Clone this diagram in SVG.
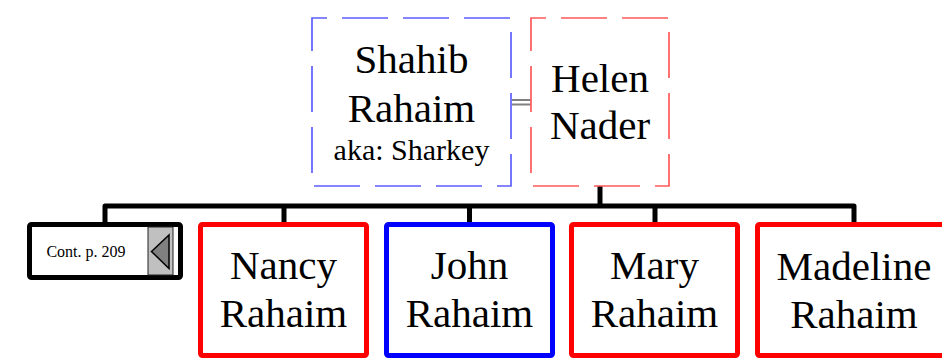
<svg xmlns="http://www.w3.org/2000/svg" width="942" height="361" viewBox="0 0 942 361">
<style>
.t{font-family:'Liberation Serif','Times New Roman',serif;fill:#000;text-anchor:middle}
.big{font-size:41px}
.aka{font-size:30px}
.small{font-size:16px}
.dash{fill:#fff;stroke-width:1.7;stroke-dasharray:46 15;stroke-dashoffset:31}
.child{fill:#fff;stroke-width:5;stroke-linejoin:round}
.conn{fill:none;stroke:#000;stroke-width:5;stroke-linejoin:round;stroke-linecap:butt}
</style>
<rect width="942" height="361" fill="#fff"/>
<g id="connectors">
<path class="conn" d="M105,222 V206 H854 V222"/>
<path class="conn" d="M284,206 V222 M469.5,206 V222 M655,206 V222"/>
<path class="conn" d="M600,184 V206"/>
<path d="M512,100 H531 M512,104.5 H531" stroke="#808080" stroke-width="2" fill="none"/>
</g>
<g id="shahib">
<rect class="dash" x="312" y="18" width="199" height="168" stroke="#5e5eff"/>
<text class="t big" x="411.5" y="73">Shahib</text>
<text class="t big" x="411.5" y="122">Rahaim</text>
<text class="t aka" x="411.5" y="160">aka: Sharkey</text>
</g>
<g id="helen">
<rect class="dash" x="531" y="18" width="138" height="168" stroke="#ff5a5a"/>
<text class="t big" x="600" y="92">Helen</text>
<text class="t big" x="600" y="139">Nader</text>
</g>
<g id="cont">
<rect x="29.5" y="224.5" width="151" height="53" rx="2" fill="#fff" stroke="#000" stroke-width="5"/>
<rect x="148" y="227" width="25" height="48" fill="#c0c0c0" stroke="#222" stroke-width="1"/>
<polygon points="151.5,251.5 169,235 169,268.5" fill="#808080" stroke="#000" stroke-width="1.5"/>
<text class="t small" x="86" y="256.5">Cont. p. 209</text>
</g>
<g id="nancy">
<rect class="child" x="200.5" y="224.5" width="166" height="131" rx="2" stroke="#ff0000"/>
<text class="t big" x="283.5" y="279">Nancy</text>
<text class="t big" x="283.5" y="327">Rahaim</text>
</g>
<g id="john">
<rect class="child" x="386.5" y="224.5" width="166" height="131" rx="2" stroke="#0000ff"/>
<text class="t big" x="469.5" y="279">John</text>
<text class="t big" x="469.5" y="327">Rahaim</text>
</g>
<g id="mary">
<rect class="child" x="571.5" y="224.5" width="166" height="131" rx="2" stroke="#ff0000"/>
<text class="t big" x="654.5" y="279">Mary</text>
<text class="t big" x="654.5" y="327">Rahaim</text>
</g>
<g id="madeline">
<rect class="child" x="757.5" y="224.5" width="193" height="131" rx="2" stroke="#ff0000"/>
<text class="t big" x="854" y="280">Madeline</text>
<text class="t big" x="854" y="328">Rahaim</text>
</g>
</svg>
